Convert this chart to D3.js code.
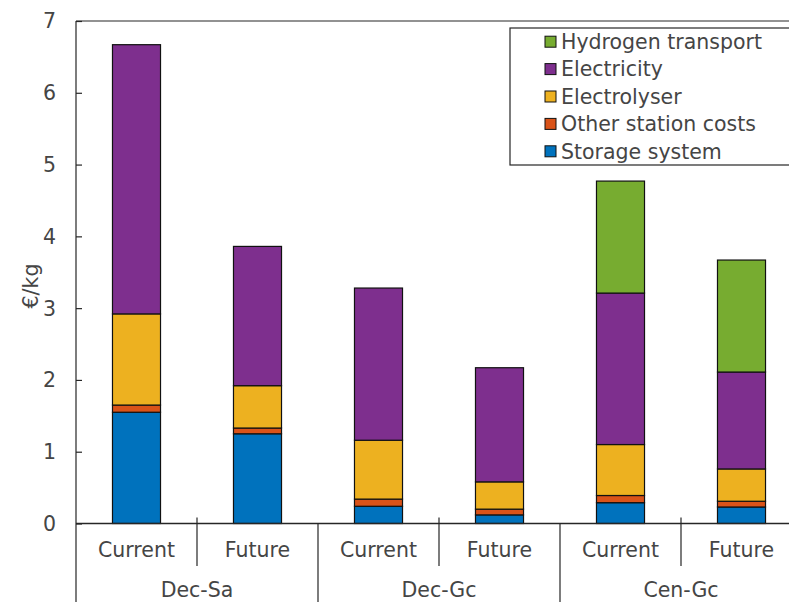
<!DOCTYPE html>
<html>
<head>
<meta charset="utf-8">
<script src="https://cdn.jsdelivr.net/npm/d3@7"></script>
<style>
  html, body { margin: 0; padding: 0; background: #fff; }
  svg { display: block; }
  text { font-family: "DejaVu Sans", sans-serif; }
</style>
</head>
<body>
<svg id="chart" width="789" height="602"></svg>
<script>
// ---- data ----
const groups = ["Dec-Sa", "Dec-Gc", "Cen-Gc"];
const scenarios = ["Current", "Future"];
const seriesNames = ["Storage system", "Other station costs", "Electrolyser", "Electricity", "Hydrogen transport"];
const storageSystem     = [1.55, 1.25, 0.24, 0.12, 0.29, 0.23];
const otherStation      = [0.10, 0.08, 0.10, 0.08, 0.10, 0.08];
const electrolyser      = [1.27, 0.59, 0.82, 0.38, 0.71, 0.45];
const electricity       = [3.75, 1.94, 2.12, 1.59, 2.11, 1.35];
const hydrogenTransport = [0.00, 0.00, 0.00, 0.00, 1.56, 1.56];
const yTicks = [0, 1, 2, 3, 4, 5, 6, 7];
const colors = ["#0072BD", "#D95319", "#EDB120", "#7E2F8E", "#77AC30"];

(function () {
const seriesValues = [storageSystem, otherStation, electrolyser, electricity, hydrogenTransport];
const slots = [];
groups.forEach(g => scenarios.forEach(s => slots.push(g + "|" + s)));
const rows = slots.map((k, i) => {
  const r = { key: k };
  seriesNames.forEach((n, j) => r[n] = seriesValues[j][i]);
  return r;
});

const svg = d3.select("#chart");
const mLeft = 76, mRight = 802, mTop = 21, mBottom = 523.5;
const textColor = "#454545";

const x = d3.scaleBand().domain(slots).range([mLeft, mRight]).paddingInner(0.603).paddingOuter(0.3015);
const xg = d3.scaleBand().domain(groups).range([mLeft, mRight]);
const y = d3.scaleLinear().domain([0, 7]).range([mBottom, mTop]);

const stacked = d3.stack().keys(seriesNames)(rows);

// bars
svg.append("g").selectAll("g").data(stacked).join("g")
  .attr("fill", (d, i) => colors[i])
  .selectAll("rect").data(d => d.filter(p => p[1] - p[0] > 0)).join("rect")
  .attr("x", d => x(d.data.key))
  .attr("width", x.bandwidth())
  .attr("y", d => y(d[1]))
  .attr("height", d => y(d[0]) - y(d[1]))
  .attr("stroke", "#111")
  .attr("stroke-width", 1.2);

// frame: top line and left axis
svg.append("line").attr("x1", mLeft).attr("x2", mRight).attr("y1", mTop).attr("y2", mTop)
  .attr("stroke", "#262626").attr("stroke-width", 1.2);
svg.append("line").attr("x1", mLeft).attr("x2", mLeft).attr("y1", mTop).attr("y2", 602)
  .attr("stroke", "#262626").attr("stroke-width", 1.2);
svg.append("line").attr("x1", mLeft).attr("x2", mRight).attr("y1", y(0)).attr("y2", y(0))
  .attr("stroke", "#262626").attr("stroke-width", 1.4);

// y axis ticks + labels
const yAxis = d3.axisRight(y).tickValues(yTicks).tickSize(6).tickFormat("");
const ya = svg.append("g").attr("transform", `translate(${mLeft},0)`).call(yAxis);
ya.select(".domain").remove();
ya.selectAll("line").attr("stroke", "#262626").attr("stroke-width", 1.2);
svg.append("g").selectAll("text").data(yTicks).join("text")
  .attr("x", 56).attr("y", d => y(d)).attr("dy", "0.36em")
  .attr("text-anchor", "end").attr("fill", textColor)
  .style("font-size", "20.5px").text(d => d);

svg.append("text")
  .attr("transform", `translate(38,286) rotate(-90)`)
  .attr("text-anchor", "middle").attr("fill", textColor)
  .style("font-size", "20.5px").text("€/kg");

// category axis: scenario labels and separators
svg.append("g").selectAll("text").data(slots).join("text")
  .attr("x", d => x(d) + x.bandwidth() / 2).attr("y", 557)
  .attr("text-anchor", "middle").attr("fill", textColor)
  .style("font-size", "20.5px").text(d => d.split("|")[1]);

svg.append("g").selectAll("line").data(groups).join("line")
  .attr("x1", d => xg(d) + xg.bandwidth() / 2).attr("x2", d => xg(d) + xg.bandwidth() / 2)
  .attr("y1", mBottom - 6).attr("y2", 566)
  .attr("stroke", "#262626").attr("stroke-width", 1.2);

svg.append("g").selectAll("line").data(groups.slice(1)).join("line")
  .attr("x1", d => xg(d)).attr("x2", d => xg(d))
  .attr("y1", mBottom).attr("y2", 602)
  .attr("stroke", "#262626").attr("stroke-width", 1.2);

svg.append("g").selectAll("text").data(groups).join("text")
  .attr("x", d => xg(d) + xg.bandwidth() / 2).attr("y", 597)
  .attr("text-anchor", "middle").attr("fill", textColor)
  .style("font-size", "20.5px").text(d => d);

// legend
const lg = svg.append("g");
lg.append("rect").attr("x", 510).attr("y", 28).attr("width", 300).attr("height", 137)
  .attr("fill", "#fff").attr("stroke", "#262626").attr("stroke-width", 1.2);
const legendOrder = seriesNames.map((n, i) => ({ n, c: colors[i] })).reverse();
const li = lg.selectAll("g").data(legendOrder).join("g")
  .attr("transform", (d, i) => `translate(545,${41.7 + i * 27.4})`);
li.append("rect").attr("x", 0).attr("y", -5.5).attr("width", 11).attr("height", 11)
  .attr("fill", d => d.c).attr("stroke", "#111").attr("stroke-width", 1);
li.append("text").attr("x", 16).attr("y", 0).attr("dy", "0.36em")
  .attr("fill", textColor).style("font-size", "20.5px").text(d => d.n);
})();
</script>
</body>
</html>
